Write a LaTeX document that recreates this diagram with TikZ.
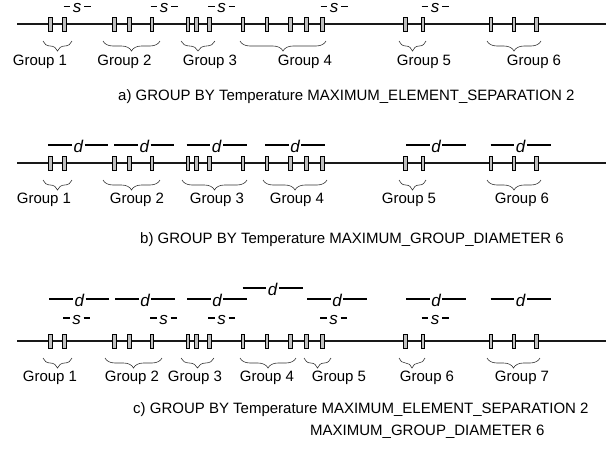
\documentclass[tikz,border=0pt]{standalone}
\usepackage{fontspec}
\setmainfont{Liberation Sans}
\usetikzlibrary{decorations.pathreplacing}
\begin{document}
\begin{tikzpicture}[x=1pt,y=-1pt,
  axisline/.style={line width=2.8pt, black!90},
  tickmark/.style={rectangle, draw=black, fill=black!25, line width=0.5pt, minimum width=3.6pt, minimum height=14pt, inner sep=0pt},
  grpbrace/.style={decorate, decoration={brace, mirror, amplitude=10pt}, line width=0.6pt, black!80},
  txt/.style={font=\fontsize{15}{18}\selectfont, inner sep=0pt},
  sym/.style={font=\fontsize{17}{18}\selectfont\itshape, inner sep=1.5pt},
  symline/.style={line width=1.2pt},
  dashline/.style={line width=1.1pt}]
\useasboundingbox (0,0) rectangle (613,448);
% ---------- helpers ----------
\newcommand{\drawrow}[1]{%
  \coordinate (L#1) at (17,#1); \coordinate (R#1) at (606,#1);
  \draw[axisline] (L#1) -- (R#1);
  \foreach \t [count=\i] in {50.5,64.3,114.3,129.3,151.7,187.7,196.2,209.3,242.7,266.7,290,306.3,322.3,405.5,422.7,490.7,513.7,536}
    \node[tickmark] (t#1-\i) at (\t,#1) {};
}
% s label: start x, y
\newcommand{\slabel}[3]{%
  \node[sym, inner sep=0pt] (#3) at (#1+13.5,#2+1.8) {s};
  \coordinate (#3a) at (#1,#2); \coordinate (#3b) at (#1+6.5,#2);
  \coordinate (#3c) at (#1+20.5,#2); \coordinate (#3d) at (#1+27,#2);
  \draw[dashline] (#3a) -- (#3b) (#3c) -- (#3d);
}
% d label: start x, y
\newcommand{\dlabel}[3]{%
  \node[sym] (#3) at (#1+30,#2+1.5) {d};
  \coordinate (#3a) at (#1,#2); \coordinate (#3b) at (#1+60,#2);
  \draw[symline] (#3a) -- (#3.west |- #3a) (#3.east |- #3a) -- (#3b);
}
% brace: x1, x2, y(top), label x, label y, label text, name
\newcommand{\grp}[7]{%
  \coordinate (#7l) at (#1,#3); \coordinate (#7r) at (#2,#3);
  \draw[grpbrace] (#7l) -- (#7r);
  \node[txt] (#7) at (#4,#5) {#6};
}
% ================= row a =================
\drawrow{24}
\slabel{63.5}{6.5}{sa1}
\slabel{150.5}{6.5}{sa2}
\slabel{208}{6.5}{sa3}
\slabel{320.5}{6.5}{sa4}
\slabel{421.5}{6.5}{sa5}
\grp{43}{72}{41}{40}{61.7}{Group 1}{ga1}
\grp{103}{160}{41}{124.5}{61.7}{Group 2}{ga2}
\grp{181}{215}{41}{210}{61.7}{Group 3}{ga3}
\grp{240}{326}{41}{305}{61.7}{Group 4}{ga4}
\grp{399}{426}{41}{424}{61.7}{Group 5}{ga5}
\grp{487}{541}{41}{534}{61.7}{Group 6}{ga6}
\node[txt, anchor=west] (capa) at (118,97) {a) GROUP BY Temperature MAXIMUM\_ELEMENT\_SEPARATION 2};
% ================= row b =================
\drawrow{163}
\dlabel{48.3}{145}{db1}
\dlabel{114.3}{145}{db2}
\dlabel{186.7}{145}{db3}
\dlabel{265}{145}{db4}
\dlabel{406}{145}{db5}
\dlabel{490.5}{145}{db6}
\grp{43}{72}{180}{44}{200}{Group 1}{gb1}
\grp{103}{160}{180}{137}{200}{Group 2}{gb2}
\grp{182}{247}{180}{217}{200}{Group 3}{gb3}
\grp{263}{327}{180}{297}{200}{Group 4}{gb4}
\grp{399}{426}{180}{409}{200}{Group 5}{gb5}
\grp{487}{541}{180}{522}{200}{Group 6}{gb6}
\node[txt, anchor=west] (capb) at (140,240) {b) GROUP BY Temperature MAXIMUM\_GROUP\_DIAMETER 6};
% ================= row c =================
\drawrow{341}
\dlabel{49.3}{299}{dc1}
\dlabel{115}{299}{dc2}
\dlabel{187}{299}{dc3}
\dlabel{242.7}{288}{dc4}
\dlabel{307}{299}{dc5}
\dlabel{406}{299}{dc6}
\dlabel{490.7}{299}{dc7}
\slabel{63}{318}{sc1}
\slabel{150}{318}{sc2}
\slabel{208}{318}{sc3}
\slabel{320}{318}{sc4}
\slabel{421.7}{318}{sc5}
\grp{43}{72}{358}{50}{378}{Group 1}{gc1}
\grp{105}{162}{358}{132}{378}{Group 2}{gc2}
\grp{181}{214}{358}{195}{378}{Group 3}{gc3}
\grp{240}{296}{358}{267}{378}{Group 4}{gc4}
\grp{304}{331}{358}{339}{378}{Group 5}{gc5}
\grp{399}{425}{358}{427}{378}{Group 6}{gc6}
\grp{487}{540}{358}{522}{378}{Group 7}{gc7}
\node[txt, anchor=west] (capc) at (133,410) {c) GROUP BY Temperature MAXIMUM\_ELEMENT\_SEPARATION 2};
\node[txt, anchor=west] (capc2) at (310,432) {MAXIMUM\_GROUP\_DIAMETER 6};
\end{tikzpicture}
\end{document}
